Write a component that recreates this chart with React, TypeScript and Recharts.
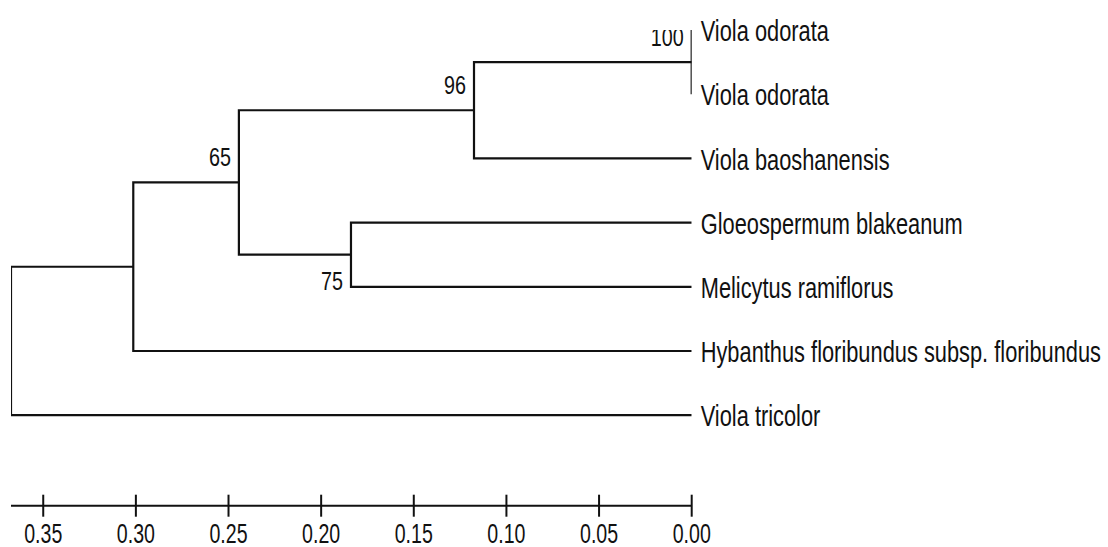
import React from 'react'
import { ComposedChart, Line, Scatter, XAxis, YAxis } from 'recharts'

// leaf labels, top to bottom
const taxa = [
  'Viola odorata',
  'Viola odorata',
  'Viola baoshanensis',
  'Gloeospermum blakeanum',
  'Melicytus ramiflorus',
  'Hybanthus floribundus subsp. floribundus',
  'Viola tricolor',
]

// internal nodes: children ('L' = leaf index, otherwise node id), depth on the distance scale, bootstrap
const nodeIds = ['n100', 'n96', 'n75', 'n65', 'n30', 'root']
const nodeChildren = [
  ['L0', 'L1'],
  ['n100', 'L2'],
  ['L3', 'L4'],
  ['n96', 'n75'],
  ['n65', 'L5'],
  ['n30', 'L6'],
]
const nodeDepths = [0.0, 0.1175, 0.1839, 0.2444, 0.3014, 0.3674]
const bootstrap = [100, 96, 75, 65, null, null]

const distanceTicks = [0.35, 0.3, 0.25, 0.2, 0.15, 0.1, 0.05, 0.0]

const INK = '#111'
const FONT = '"Liberation Sans", Arial, sans-serif'

type Pt = { x: number; y: number }

const pos: Record<string, Pt> = {}
taxa.forEach((_, i) => {
  pos['L' + i] = { x: 0, y: i }
})
nodeIds.forEach((id, i) => {
  const [a, b] = nodeChildren[i]
  pos[id] = { x: nodeDepths[i], y: (pos[a].y + pos[b].y) / 2 }
})

// one elbow polyline per internal node
const branches = nodeIds.map((id, i) => {
  const [a, b] = nodeChildren[i].map((c) => pos[c])
  const n = pos[id]
  return [
    { x: a.x, y: a.y },
    { x: n.x, y: a.y },
    { x: n.x, y: b.y },
    { x: b.x, y: b.y },
  ]
})

const supportPoints = nodeIds
  .map((id, i) => ({ id, x: pos[id].x, y: pos[id].y, label: bootstrap[i] }))
  .filter((p) => p.label !== null)

const labelBelow = new Set(['n75'])

const SupportLabel = (props: any) => {
  const { cx, cy, payload } = props
  const dy = labelBelow.has(payload.id) ? 26 : -25
  return (
    <g transform={`translate(${cx - 8},${cy + dy}) scale(0.76,1)`}>
      <text textAnchor="end" dominantBaseline="central" fontSize={26} fontFamily={FONT} fill={INK}>
        {payload.label}
      </text>
    </g>
  )
}

const TaxonTick = (props: any) => {
  const { x, y, payload } = props
  return (
    <g transform={`translate(${x + 9},${y + 1}) scale(0.74,1)`}>
      <text textAnchor="start" dominantBaseline="central" fontSize={29.5} fontFamily={FONT} fill={INK}>
        {taxa[payload.value]}
      </text>
    </g>
  )
}

const DistanceTick = (props: any) => {
  const { x, y, payload } = props
  return (
    <g>
      <line x1={x} x2={x} y1={y - 11} y2={y + 11} stroke={INK} strokeWidth={2} />
      <g transform={`translate(${x},${y + 27}) scale(0.7,1)`}>
        <text textAnchor="middle" dominantBaseline="central" fontSize={28} fontFamily={FONT} fill={INK}>
          {payload.value.toFixed(2)}
        </text>
      </g>
    </g>
  )
}

export default function App() {
  return (
    <div style={{ position: 'absolute', left: 0, top: 0, background: '#fff' }}>
      <ComposedChart width={1108} height={547} margin={{ top: 30, right: 16.3, bottom: 0, left: 11 }}>
        <XAxis
          type="number"
          dataKey="x"
          domain={[0, 0.3674]}
          reversed
          allowDataOverflow
          ticks={distanceTicks}
          interval={0}
          height={41.3}
          tickSize={0}
          tickMargin={0}
          tickLine={false}
          axisLine={{ stroke: INK, strokeWidth: 2 }}
          tick={<DistanceTick />}
        />
        <YAxis
          type="number"
          dataKey="y"
          orientation="right"
          domain={[0, 7.41]}
          reversed
          allowDataOverflow
          ticks={taxa.map((_, i) => i)}
          interval={0}
          width={400}
          tickSize={0}
          tickMargin={0}
          tickLine={false}
          axisLine={false}
          tick={<TaxonTick />}
        />
        {branches.map((seg, i) => (
          <Line
            key={nodeIds[i]}
            data={seg}
            dataKey="y"
            type="linear"
            stroke={INK}
            strokeWidth={2.2}
            dot={false}
            activeDot={false}
            isAnimationActive={false}
          />
        ))}
        <Scatter data={supportPoints} dataKey="y" shape={<SupportLabel />} isAnimationActive={false} />
      </ComposedChart>
    </div>
  )
}
